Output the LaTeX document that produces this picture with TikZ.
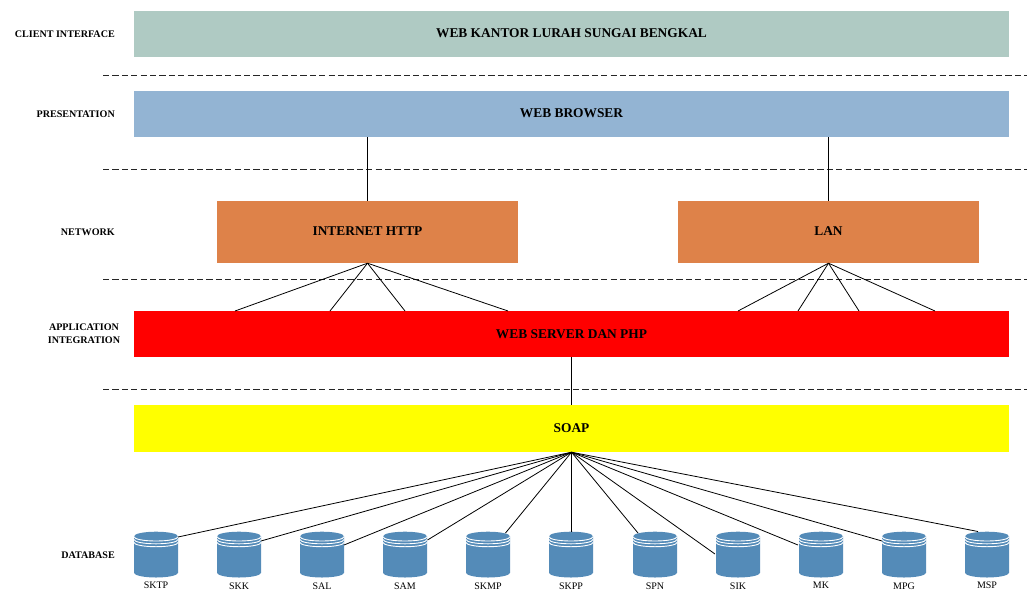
\documentclass[tikz,border=0pt]{standalone}
\usepackage{fontspec}
\setmainfont{Liberation Serif}
\definecolor{cclient}{HTML}{AFCAC3}
\definecolor{cbrowser}{HTML}{93B4D3}
\definecolor{cnet}{HTML}{DE8249}
\definecolor{cdb}{HTML}{548BB8}
\definecolor{cyellow}{HTML}{FFFF00}
\definecolor{cred}{HTML}{FF0000}
\tikzset{
  band/.style={rectangle,inner sep=0pt,minimum height=#1,font=\bfseries\fontsize{13.4}{15}\selectfont,text=black},
  band/.default=46pt,
  sidelabel/.style={inner sep=0pt,font=\bfseries\fontsize{10.1}{13}\selectfont,align=center},
  dblabel/.style={inner sep=0pt,font=\fontsize{10}{11}\selectfont},
  sepline/.style={draw=black!85,line width=0.9pt,dash pattern=on 6.2pt off 3.2pt},
  wire/.style={draw=black,line width=0.8pt},
  dbcyl/.pic={
    \fill[cdb] (-22,0) .. controls (-22,-2.6) and (-12,-4.6) .. (0,-4.6) .. controls (12,-4.6) and (22,-2.6) .. (22,0)
      -- (22,36.5) .. controls (22,39.1) and (12,41.2) .. (0,41.2) .. controls (-12,41.2) and (-22,39.1) .. (-22,36.5) -- cycle;
    \foreach \d in {0.4,3.2,6.1}
      \draw[white,line width=0.9pt] (-22,\d) .. controls (-22,\d+2.5) and (-12,\d+4.3) .. (0,\d+4.3) .. controls (12,\d+4.3) and (22,\d+2.5) .. (22,\d);
  }
}
\begin{document}
\begin{tikzpicture}[x=1pt,y=-1pt]
\useasboundingbox (0,0) rectangle (1027,592);
% separators
\foreach \n/\y in {a/75,b/169,c/279,d/389}{
  \coordinate (sep\n l) at (103,\y);
  \coordinate (sep\n r) at (1027,\y);
  \draw[sepline] (sep\n l) -- (sep\n r);
}
% bands
\node[band=46pt,fill=cclient,minimum width=875pt] (client) at (571.5,34) {\raisebox{1pt}{WEB KANTOR LURAH SUNGAI BENGKAL}};
\node[band=46pt,fill=cbrowser,minimum width=875pt] (browser) at (571.5,114) {\raisebox{1pt}{WEB BROWSER}};
\node[band=62pt,fill=cnet,minimum width=301pt] (inet) at (367.5,232) {\raisebox{1pt}{INTERNET HTTP}};
\node[band=62pt,fill=cnet,minimum width=301pt] (lan) at (828.5,232) {\raisebox{1pt}{LAN}};
\node[band=46pt,fill=cred,minimum width=875pt] (server) at (571.5,334) {WEB SERVER DAN PHP};
\node[band=47pt,fill=cyellow,minimum width=875pt] (soap) at (571.5,428.5) {SOAP};
% side labels
\node[sidelabel,anchor=east] (lclient) at (115,34) {CLIENT INTERFACE};
\node[sidelabel,anchor=east] (lpres) at (115,114) {PRESENTATION};
\node[sidelabel,anchor=east] (lnet) at (115,232) {NETWORK};
\node[sidelabel] (lapp) at (84,334) {APPLICATION\\INTEGRATION};
\node[sidelabel,anchor=east] (ldb) at (115,555) {DATABASE};
% browser links
\draw[wire] (inet.north) -- (inet.north |- browser.south);
\draw[wire] (lan.north) -- (lan.north |- browser.south);
% network fans
\foreach \n/\x in {1/235,2/330,3/405,4/508}{
  \coordinate (fi\n) at (\x,311);
  \draw[wire] (inet.south) -- (fi\n);
}
\foreach \n/\x in {1/738,2/798,3/859,4/935}{
  \coordinate (fl\n) at (\x,311);
  \draw[wire] (lan.south) -- (fl\n);
}
\draw[wire] (server.south) -- (soap.north);
% databases
\foreach \n/\x/\t/\ly in {1/156/SKTP/585,2/239/SKK/586,3/322/SAL/586,4/405/SAM/586,5/488/SKMP/586,6/571/SKPP/586,7/655/SPN/586,8/738/SIK/586,9/821/MK/585,10/904/MPG/586,11/987/MSP/585}{
  \pic at (\x,536.3) {dbcyl};
  \node[dblabel] (dbl\n) at (\x,\ly) {\t};
}
\foreach \n/\x/\y in {1/178/537,2/261/541,3/344/545,4/427.5/540,5/505.5/533,6/571.5/531.5,7/638/533,8/715/554,9/798/545,10/882/541,11/978/531.5}{
  \coordinate (de\n) at (\x,\y);
  \draw[wire] (soap.south) -- (de\n);
}
\end{tikzpicture}
\end{document}
